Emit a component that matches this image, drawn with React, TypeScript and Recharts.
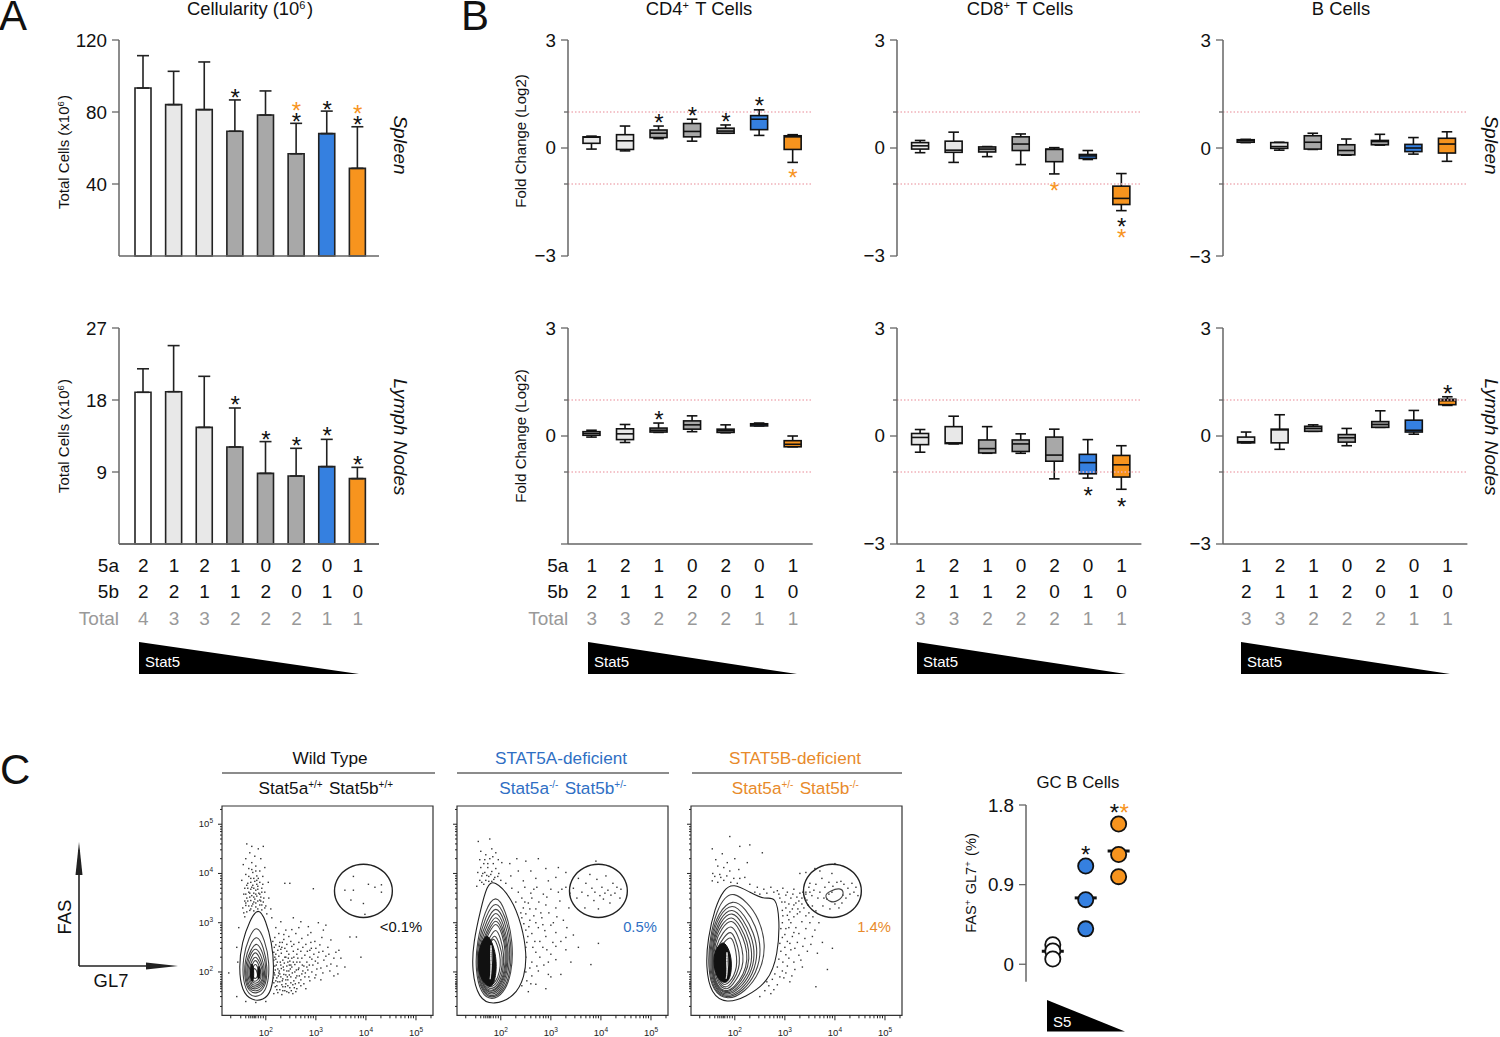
import React from "react";
import {
  ComposedChart,
  ScatterChart,
  Bar,
  Line,
  Scatter,
  Cell,
  ErrorBar,
  XAxis,
  YAxis,
  ReferenceLine,
  ReferenceArea,
} from "recharts";

const FONT = "'Liberation Sans', Arial, sans-serif";
const AXIS = "#666";
const INK = "#111";
const BLUE = "#3580e0";
const ORANGE = "#f7941e";
const LIGHT = "#e8e8e8";
const GREY = "#a8a8a8";

// panel A
const genotypes8 = ["2/2", "1/2", "2/1", "1/1", "0/2", "2/0", "0/1", "1/0"];
const a5a8 = [2, 1, 2, 1, 0, 2, 0, 1];
const a5b8 = [2, 2, 1, 1, 2, 0, 1, 0];
const total8 = [4, 3, 3, 2, 2, 2, 1, 1];
const barColours = ["#fff", LIGHT, LIGHT, GREY, GREY, GREY, BLUE, ORANGE];

const spleenMeans = [93.3, 84.1, 81.3, 69.3, 78.3, 56.8, 68, 48.7];
const spleenTops = [111.3, 102.6, 107.8, 86.7, 91.7, 73.7, 80.5, 71.8];
const spleenBlack = [null, null, null, 91.1, null, 77.8, 84.4, 76];
const spleenOrange = [null, null, null, null, null, 84, null, 82.4];

const lnMeans = [18.96, 19.04, 14.58, 12.13, 8.83, 8.5, 9.67, 8.17];
const lnTops = [21.9, 24.8, 20.96, 17, 12.8, 11.96, 13.08, 9.58];
const lnBlack = [null, null, null, 18.1, 13.8, 13, 14.2, 10.6];

// panel B: [min, q1, median, q3, max]
const genotypes7 = ["1/2", "2/1", "1/1", "0/2", "2/0", "0/1", "1/0"];
const a5a7 = [1, 2, 1, 0, 2, 0, 1];
const a5b7 = [2, 1, 1, 2, 0, 1, 0];
const total7 = [3, 3, 2, 2, 2, 1, 1];
const boxColours = [LIGHT, LIGHT, GREY, GREY, GREY, BLUE, ORANGE];

const cd4Spleen = [
  [-0.03, 0.13, 0.3, 0.31, 0.33],
  [-0.08, -0.04, 0.2, 0.37, 0.61],
  [0.26, 0.29, 0.41, 0.5, 0.61],
  [0.19, 0.31, 0.46, 0.68, 0.8],
  [0.41, 0.41, 0.47, 0.55, 0.64],
  [0.35, 0.51, 0.8, 0.9, 1.06],
  [-0.4, -0.04, 0.31, 0.34, 0.37],
];
const cd4SpleenBlack = [null, null, 0.87, 1.06, 0.89, 1.32, null];
const cd4SpleenOrange = [null, null, null, null, null, null, -0.68];

const cd8Spleen = [
  [-0.13, -0.03, 0.06, 0.15, 0.21],
  [-0.4, -0.12, -0.06, 0.19, 0.44],
  [-0.24, -0.11, -0.03, 0.03, 0.04],
  [-0.46, -0.07, 0.11, 0.31, 0.39],
  [-0.72, -0.38, -0.04, -0.03, 0.01],
  [-0.32, -0.29, -0.22, -0.18, -0.07],
  [-1.74, -1.57, -1.4, -1.06, -0.71],
];
const cd8SpleenBlack = [null, null, null, null, null, null, -2.03];
const cd8SpleenOrange = [null, null, null, null, -1.03, null, -2.33];

const bSpleen = [
  [0.15, 0.16, 0.2, 0.23, 0.24],
  [-0.06, -0.01, 0.04, 0.15, 0.16],
  [-0.04, -0.03, 0.16, 0.34, 0.41],
  [-0.2, -0.19, -0.07, 0.09, 0.25],
  [0.08, 0.09, 0.18, 0.21, 0.38],
  [-0.17, -0.1, 0, 0.1, 0.29],
  [-0.37, -0.14, 0.11, 0.27, 0.45],
];

const cd4Ln = [
  [-0.03, 0.02, 0.07, 0.12, 0.16],
  [-0.18, -0.1, 0.06, 0.2, 0.32],
  [0.1, 0.11, 0.16, 0.22, 0.36],
  [0.12, 0.19, 0.31, 0.42, 0.56],
  [0.09, 0.1, 0.15, 0.19, 0.31],
  [0.28, 0.28, 0.32, 0.34, 0.36],
  [-0.3, -0.3, -0.23, -0.13, 0],
];
const cd4LnBlack = [null, null, 0.6, null, null, null, null];

const cd8Ln = [
  [-0.45, -0.24, -0.04, 0.07, 0.18],
  [-0.22, -0.21, -0.19, 0.26, 0.55],
  [-0.48, -0.47, -0.35, -0.11, 0.26],
  [-0.48, -0.43, -0.22, -0.11, 0.06],
  [-1.19, -0.7, -0.53, -0.03, 0.19],
  [-1.17, -1.05, -0.74, -0.51, -0.1],
  [-1.48, -1.14, -0.8, -0.54, -0.27],
];
const cd8LnBlack = [null, null, null, null, null, -1.49, -1.8];

const bLn = [
  [-0.19, -0.19, -0.16, -0.03, 0.11],
  [-0.37, -0.19, 0.17, 0.19, 0.59],
  [0.13, 0.13, 0.21, 0.27, 0.31],
  [-0.27, -0.17, -0.05, 0.04, 0.21],
  [0.24, 0.24, 0.32, 0.4, 0.7],
  [0.05, 0.11, 0.16, 0.44, 0.71],
  [0.85, 0.87, 0.98, 1.02, 1.09],
];
const bLnBlack = [null, null, null, null, null, null, 1.33];

// GC B cells
const gcWhite = [0.22, 0.15, 0.06];
const gcBlue = [1.11, 0.73, 0.4];
const gcOrange = [1.585, 1.24, 0.99];
const gcMedians = [0.147, 0.75, 1.28];

// flow plots, values are log10 of fluorescence
const flowMinor = [1.3, 1.5, 1.6, 1.66, 1.7, 1.74, 1.77, 1.8, 1.85, 1.9, 1.95, 2.3, 2.48, 2.6, 2.7, 2.78, 2.85, 2.9, 2.95, 3.3, 3.48, 3.6, 3.7, 3.78, 3.85, 3.9, 3.95, 4.3, 4.48, 4.6, 4.7, 4.78, 4.85, 4.9, 4.95, 5.3];
const flowMajor = [2, 3, 4, 5];

const gateRing = [[4.555, 3.646], [4.474, 3.928], [4.252, 4.135], [3.95, 4.211], [3.648, 4.135], [3.426, 3.928], [3.345, 3.646], [3.426, 3.364], [3.648, 3.157], [3.95, 3.081], [4.252, 3.157], [4.474, 3.364]];

const wtContours = [
  [[1.85, 3.32], [2.0, 3.05], [2.12, 2.6], [2.17, 2.1], [2.12, 1.6], [1.95, 1.42], [1.72, 1.42], [1.52, 1.6], [1.46, 2.1], [1.52, 2.6], [1.68, 3.05]],
  [[1.82, 2.98], [1.98, 2.65], [2.08, 2.2], [2.04, 1.65], [1.85, 1.48], [1.66, 1.52], [1.54, 1.8], [1.54, 2.3], [1.66, 2.7]],
  [[1.82, 2.78], [1.96, 2.5], [2.04, 2.1], [2.0, 1.68], [1.82, 1.55], [1.66, 1.6], [1.57, 1.85], [1.58, 2.25], [1.68, 2.55]],
  [[1.82, 2.63], [1.95, 2.38], [2.02, 2.05], [1.97, 1.7], [1.82, 1.6], [1.67, 1.63], [1.59, 1.88], [1.6, 2.2], [1.7, 2.45]],
  [[1.8, 2.52], [1.93, 2.3], [1.99, 2.0], [1.95, 1.72], [1.8, 1.64], [1.68, 1.67], [1.61, 1.9], [1.63, 2.18], [1.7, 2.38]],
  [[1.8, 2.44], [1.91, 2.22], [1.97, 1.98], [1.93, 1.75], [1.8, 1.68], [1.7, 1.7], [1.63, 1.92], [1.65, 2.14], [1.72, 2.32]],
  [[1.8, 2.34], [1.9, 2.16], [1.95, 1.95], [1.91, 1.78], [1.8, 1.72], [1.71, 1.74], [1.66, 1.93], [1.67, 2.1], [1.73, 2.25]],
  [[1.8, 2.27], [1.88, 2.1], [1.92, 1.95], [1.88, 1.8], [1.79, 1.76], [1.72, 1.79], [1.69, 1.93], [1.7, 2.07], [1.74, 2.18]],
  [[1.79, 2.2], [1.86, 2.05], [1.88, 1.93], [1.84, 1.83], [1.78, 1.8], [1.73, 1.83], [1.71, 1.94], [1.73, 2.06]],
  [[1.78, 2.1], [1.84, 1.98], [1.83, 1.88], [1.77, 1.86], [1.74, 1.92], [1.74, 2.02]],
];
const wtCores = [
  [[1.71, 2.22], [1.76, 2.1], [1.76, 1.85], [1.72, 1.78], [1.68, 1.95]],
  [[1.86, 2.18], [1.9, 2.0], [1.86, 1.8], [1.82, 1.95]],
];

const aContours = [
  [[1.86, 3.88], [2.22, 3.5], [2.42, 2.95], [2.52, 2.37], [2.48, 1.9], [2.28, 1.5], [1.86, 1.32], [1.55, 1.45], [1.42, 2.03], [1.45, 2.6], [1.6, 3.28], [1.72, 3.75]],
  [[1.9, 3.6], [2.1, 3.25], [2.25, 2.6], [2.22, 1.95], [2.05, 1.55], [1.82, 1.42], [1.6, 1.55], [1.49, 2.05], [1.52, 2.6], [1.68, 3.25]],
  [[1.9, 3.48], [2.09, 3.15], [2.22, 2.58], [2.2, 1.98], [2.04, 1.58], [1.82, 1.45], [1.62, 1.58], [1.51, 2.05], [1.54, 2.6], [1.7, 3.15]],
  [[1.9, 3.38], [2.08, 3.05], [2.19, 2.55], [2.17, 2.0], [2.02, 1.6], [1.82, 1.48], [1.63, 1.6], [1.53, 2.05], [1.56, 2.6], [1.72, 3.05]],
  [[1.9, 3.29], [2.06, 2.98], [2.16, 2.52], [2.14, 2.0], [2.0, 1.62], [1.82, 1.52], [1.64, 1.62], [1.54, 2.05], [1.58, 2.58], [1.74, 2.98]],
  [[1.9, 3.2], [2.05, 2.9], [2.14, 2.5], [2.12, 2.0], [1.98, 1.65], [1.82, 1.55], [1.65, 1.65], [1.56, 2.05], [1.6, 2.55], [1.75, 2.9]],
  [[1.9, 3.12], [2.04, 2.84], [2.12, 2.46], [2.1, 2.0], [1.97, 1.68], [1.81, 1.58], [1.66, 1.66], [1.57, 2.05], [1.61, 2.52], [1.76, 2.85]],
  [[1.9, 3.05], [2.03, 2.78], [2.1, 2.42], [2.08, 2.0], [1.96, 1.7], [1.81, 1.6], [1.67, 1.68], [1.58, 2.05], [1.62, 2.5], [1.77, 2.8]],
  [[1.9, 2.92], [2.0, 2.68], [2.07, 2.35], [2.05, 2.0], [1.94, 1.72], [1.8, 1.64], [1.68, 1.72], [1.6, 2.05], [1.64, 2.45], [1.78, 2.7]],
  [[1.88, 2.8], [1.98, 2.55], [2.04, 2.3], [2.02, 2.0], [1.92, 1.76], [1.8, 1.68], [1.69, 1.75], [1.62, 2.05], [1.66, 2.4], [1.78, 2.6]],
  [[1.86, 2.72], [1.95, 2.5], [2.0, 2.25], [1.98, 2.0], [1.9, 1.8], [1.8, 1.72], [1.7, 1.78], [1.62, 2.05], [1.66, 2.38], [1.78, 2.58]],
];
const aCores = [[[1.75, 2.78], [1.9, 2.42], [1.92, 2.0], [1.84, 1.68], [1.7, 1.72], [1.55, 1.95], [1.54, 2.4], [1.65, 2.68]]];
const aStreak = [[1.8, 2.66], [1.83, 2.3], [1.8, 2.0], [1.78, 1.78], [1.81, 2.0], [1.79, 2.3]];

const bContours = [
  [[1.97, 3.8], [2.3, 3.62], [2.6, 3.46], [2.82, 3.55], [2.9, 3.05], [2.86, 2.35], [2.68, 1.8], [2.2, 1.48], [1.84, 1.36], [1.52, 1.55], [1.42, 2.1], [1.46, 2.68], [1.6, 3.3], [1.78, 3.68]],
  [[1.97, 3.62], [2.25, 3.42], [2.48, 3.1], [2.63, 2.55], [2.52, 2.0], [2.2, 1.58], [1.85, 1.42], [1.56, 1.6], [1.46, 2.1], [1.5, 2.7], [1.64, 3.25], [1.8, 3.52]],
  [[1.96, 3.5], [2.22, 3.28], [2.42, 2.95], [2.54, 2.45], [2.44, 1.98], [2.16, 1.6], [1.85, 1.45], [1.58, 1.6], [1.48, 2.1], [1.52, 2.7], [1.66, 3.2]],
  [[1.95, 3.42], [2.2, 3.15], [2.38, 2.8], [2.47, 2.4], [2.37, 1.95], [2.12, 1.62], [1.85, 1.48], [1.6, 1.62], [1.5, 2.1], [1.54, 2.7], [1.68, 3.15]],
  [[1.95, 3.33], [2.17, 3.07], [2.34, 2.72], [2.41, 2.35], [2.32, 1.95], [2.08, 1.64], [1.85, 1.51], [1.61, 1.64], [1.52, 2.1], [1.56, 2.68], [1.7, 3.1]],
  [[1.95, 3.25], [2.15, 3.0], [2.3, 2.65], [2.36, 2.3], [2.27, 1.95], [2.05, 1.66], [1.85, 1.54], [1.62, 1.66], [1.53, 2.1], [1.57, 2.65], [1.72, 3.05]],
  [[1.94, 3.17], [2.12, 2.92], [2.26, 2.6], [2.3, 2.27], [2.22, 1.95], [2.02, 1.68], [1.84, 1.56], [1.63, 1.68], [1.54, 2.1], [1.58, 2.62], [1.73, 2.97]],
  [[1.94, 3.1], [2.1, 2.85], [2.22, 2.55], [2.26, 2.25], [2.18, 1.95], [2.0, 1.7], [1.84, 1.58], [1.64, 1.7], [1.55, 2.1], [1.6, 2.6], [1.74, 2.9]],
  [[1.93, 2.98], [2.06, 2.75], [2.15, 2.48], [2.18, 2.2], [2.1, 1.95], [1.96, 1.74], [1.83, 1.62], [1.66, 1.74], [1.57, 2.1], [1.62, 2.55], [1.76, 2.8]],
  [[1.92, 2.86], [2.02, 2.65], [2.09, 2.4], [2.1, 2.15], [2.04, 1.95], [1.93, 1.77], [1.82, 1.66], [1.68, 1.77], [1.59, 2.1], [1.64, 2.5], [1.78, 2.7]],
  [[1.92, 2.74], [2.0, 2.55], [2.04, 2.3], [2.04, 2.1], [1.98, 1.92], [1.9, 1.8], [1.81, 1.72], [1.69, 1.8], [1.61, 2.1], [1.66, 2.45], [1.8, 2.62]],
  [[3.78, 3.56], [3.9, 3.64], [4.1, 3.72], [4.2, 3.6], [4.08, 3.44], [3.9, 3.4]],
];
const bCores = [[[1.8, 2.62], [1.93, 2.36], [1.94, 2.0], [1.86, 1.76], [1.7, 1.8], [1.58, 2.05], [1.58, 2.4], [1.7, 2.57]]];
const bStreak = [[1.84, 2.5], [1.87, 2.2], [1.84, 1.95], [1.82, 1.82], [1.85, 1.95], [1.83, 2.2]];

const wtDots = [
  [1.26, 1.98], [1.62, 4.6], [1.72, 4.55], [1.85, 4.5], [1.95, 4.55], [1.68, 4.42], [1.78, 4.35], [1.6, 4.3], [1.9, 4.3], [1.72, 4.22], [1.55, 4.18], [1.8, 4.15], [1.98, 4.12],
  [1.66, 4.1], [1.88, 4.05], [1.74, 4.02], [1.6, 3.98], [1.82, 3.95], [1.94, 3.94], [1.7, 3.9], [1.52, 3.86], [1.78, 3.84], [1.88, 3.82], [2.05, 3.82], [1.64, 3.8], [1.74, 3.76],
  [1.84, 3.74], [1.58, 3.7], [1.92, 3.7], [1.7, 3.68], [1.8, 3.66], [1.66, 3.62], [1.76, 3.6], [1.86, 3.6], [1.98, 3.62], [1.56, 3.58], [1.72, 3.55], [1.82, 3.54], [1.9, 3.52],
  [1.62, 3.5], [1.78, 3.48], [2.06, 3.5], [1.7, 3.45], [1.84, 3.44], [1.95, 3.42], [1.6, 3.4], [1.74, 3.38], [1.88, 3.36], [1.66, 3.34], [1.8, 3.32], [2.0, 3.34], [1.54, 3.3],
  [1.7, 3.28], [1.92, 3.26], [2.1, 3.28], [1.62, 3.22], [2.02, 3.18], [1.58, 3.12], [2.12, 3.1], [1.76, 3.7], [1.82, 3.78], [1.68, 3.52], [1.9, 3.44], [1.98, 3.3], [1.76, 3.42],
  [2.2, 2.9], [2.3, 3.02], [2.38, 3.8], [2.48, 3.8], [2.95, 3.69], [2.18, 2.7], [2.26, 2.78], [2.4, 2.85], [2.55, 3.1], [2.7, 3.02], [2.85, 2.92], [3.05, 3.0], [3.2, 2.95],
  [2.2, 2.55], [2.28, 2.6], [2.36, 2.66], [2.46, 2.72], [2.6, 2.78], [2.72, 2.68], [2.84, 2.75], [2.98, 2.62], [3.12, 2.7], [3.3, 2.65], [3.68, 2.71], [3.81, 2.71], [3.9, 2.3],
  [2.16, 2.4], [2.24, 2.44], [2.32, 2.5], [2.42, 2.42], [2.52, 2.52], [2.64, 2.46], [2.74, 2.5], [2.88, 2.44], [3.0, 2.48], [3.14, 2.42], [3.26, 2.36], [3.4, 2.4], [3.5, 2.28],
  [2.2, 2.26], [2.26, 2.32], [2.34, 2.24], [2.4, 2.3], [2.48, 2.22], [2.56, 2.3], [2.62, 2.2], [2.72, 2.28], [2.82, 2.2], [2.92, 2.26], [3.04, 2.18], [3.16, 2.24], [3.3, 2.16], [3.42, 2.12], [3.58, 2.1],
  [2.18, 2.12], [2.24, 2.06], [2.3, 2.14], [2.36, 2.04], [2.42, 2.12], [2.46, 2.02], [2.52, 2.1], [2.58, 2.0], [2.66, 2.08], [2.74, 2.02], [2.82, 2.1], [2.92, 2.0], [3.02, 2.06], [3.14, 1.98], [3.28, 2.02], [3.44, 1.96],
  [2.18, 1.94], [2.22, 1.88], [2.28, 1.96], [2.34, 1.86], [2.4, 1.94], [2.44, 1.84], [2.5, 1.9], [2.56, 1.82], [2.62, 1.92], [2.7, 1.84], [2.78, 1.9], [2.88, 1.82], [2.98, 1.88], [3.1, 1.84],
  [2.16, 1.78], [2.22, 1.72], [2.28, 1.8], [2.34, 1.7], [2.4, 1.76], [2.48, 1.68], [2.54, 1.74], [2.62, 1.66], [2.7, 1.72], [2.8, 1.66], [2.16, 1.56], [2.24, 1.58], [2.32, 1.54], [2.42, 1.6], [2.54, 1.56], [1.42, 1.5], [1.6, 1.4], [1.8, 1.38], [2.0, 1.4],
  [1.44, 2.2], [1.42, 2.5], [1.46, 2.9], [3.75, 3.94], [3.95, 3.39], [3.58, 3.66], [3.75, 3.66], [4.05, 3.78], [4.18, 3.72], [4.31, 3.77], [4.31, 3.62], [3.98, 3.17], [3.7, 3.46],
  [1.6, 3.35], [1.64, 3.44], [1.68, 3.25], [1.72, 3.34], [1.76, 3.24], [1.8, 3.4], [1.84, 3.28], [1.88, 3.46], [1.92, 3.36], [1.96, 3.5], [1.6, 3.58], [1.64, 3.7], [1.68, 3.6], [1.72, 3.72], [1.76, 3.52], [1.8, 3.58],
  [1.84, 3.68], [1.88, 3.58], [1.92, 3.62], [1.7, 3.82], [1.76, 3.9], [1.82, 3.86], [1.66, 3.94], [1.72, 4.08], [1.8, 4.05], [1.85, 3.9], [1.62, 3.76], [1.94, 3.78], [1.58, 3.44], [1.56, 3.2],
  [2.14, 2.62], [2.17, 2.5], [2.2, 2.36], [2.23, 2.2], [2.16, 2.24], [2.19, 2.04], [2.15, 2.0], [2.2, 1.82], [2.15, 1.88], [2.25, 1.92], [2.22, 1.64], [2.19, 1.7], [2.27, 2.02], [2.29, 2.2], [2.31, 2.38], [2.27, 2.52],
  [2.33, 2.6], [2.3, 1.9], [2.32, 1.74], [2.28, 1.64], [2.35, 2.1], [2.38, 2.3], [2.36, 1.95], [2.38, 1.62], [2.4, 1.84], [2.42, 2.02], [2.44, 2.2], [2.46, 2.36], [2.44, 1.72], [2.47, 1.94], [2.5, 2.14], [2.52, 2.28],
  [2.5, 1.78], [2.53, 1.98], [2.55, 2.42], [2.58, 2.15], [2.57, 1.68], [2.6, 1.88], [2.62, 2.36], [2.65, 2.05], [2.66, 1.78], [2.68, 2.2], [2.7, 2.42], [2.72, 1.96], [2.76, 2.12], [2.78, 2.34], [2.76, 1.76], [2.8, 2.56],
  [2.84, 2.04], [2.86, 1.9], [2.88, 2.3], [2.9, 2.6], [2.94, 2.14], [2.96, 2.36], [3.0, 1.94], [3.04, 2.3], [3.08, 2.55], [3.1, 2.08], [3.2, 2.32], [3.24, 2.5], [3.36, 2.28], [3.46, 2.44], [3.36, 1.92], [3.22, 2.12],
  [2.5, 2.62], [2.66, 2.6], [2.42, 2.56], [2.36, 2.76], [2.52, 2.86], [2.66, 2.9], [2.9, 2.8], [3.15, 2.85],
  [2.18, 2.3], [2.21, 2.14], [2.17, 1.98], [2.24, 1.8], [2.26, 1.98], [2.31, 2.07], [2.33, 1.82], [2.37, 2.18], [2.39, 1.7], [2.43, 1.9], [2.45, 2.28], [2.49, 2.06], [2.51, 1.62], [2.55, 2.2], [2.59, 1.76], [2.61, 2.04],
  [2.64, 2.28], [2.67, 1.92], [2.73, 2.14], [2.79, 1.98], [2.83, 2.42], [2.87, 2.14], [2.91, 2.48], [2.99, 2.22], [3.06, 2.4], [2.3, 2.46], [2.38, 2.48], [2.47, 2.14], [2.56, 2.56], [2.34, 1.62], [2.46, 1.58], [2.6, 1.6],
];

const aDots = [
  [1.55, 4.65], [1.78, 4.7], [1.6, 4.45], [1.82, 4.5], [1.9, 4.42], [1.7, 4.38], [1.58, 4.28], [1.78, 4.3], [1.95, 4.28], [1.66, 4.2], [1.85, 4.2], [2.02, 4.22], [1.6, 4.12], [1.74, 4.12],
  [1.9, 4.1], [1.54, 4.02], [1.68, 4.02], [1.82, 4.04], [1.96, 4.0], [1.62, 3.95], [1.76, 3.94], [1.88, 3.92], [1.58, 3.86], [1.7, 3.86], [1.82, 3.84], [2.0, 3.86], [1.66, 3.78], [1.52, 3.74], [2.1, 3.8],
  [2.18, 4.2], [2.32, 4.3], [2.5, 4.25], [2.75, 4.3], [2.35, 4.05], [2.6, 4.05], [2.9, 4.1], [3.15, 4.12], [2.2, 3.95], [2.45, 3.85], [2.7, 3.9], [2.95, 3.85], [3.1, 3.92], [3.3, 4.02],
  [2.22, 3.7], [2.35, 3.62], [2.48, 3.72], [2.6, 3.6], [2.72, 3.72], [2.85, 3.58], [3.0, 3.68], [3.15, 3.62], [3.3, 3.72], [2.3, 3.42], [2.45, 3.3], [2.55, 3.4], [2.7, 3.28], [2.9, 3.36], [3.1, 3.3],
  [2.42, 3.1], [2.5, 3.18], [2.58, 3.05], [2.7, 3.0], [2.82, 3.1], [3.05, 3.0], [3.25, 3.05], [2.5, 2.85], [2.62, 2.78], [2.75, 2.9], [2.9, 2.72], [3.1, 2.8], [3.3, 2.7], [3.45, 2.75],
  [2.52, 2.6], [2.64, 2.5], [2.78, 2.62], [2.92, 2.45], [3.1, 2.52], [3.3, 2.45], [3.55, 2.5], [3.95, 2.58], [2.5, 2.3], [2.62, 2.2], [2.78, 2.3], [2.95, 2.2], [3.1, 2.25], [3.4, 2.2],
  [2.5, 2.0], [2.62, 1.92], [2.75, 2.02], [2.95, 1.95], [3.2, 1.95], [3.8, 2.15], [2.42, 1.72], [2.55, 1.6], [2.7, 1.75], [2.9, 1.66], [3.0, 1.9],
  [3.45, 3.7], [3.52, 3.5], [3.55, 3.9], [3.62, 3.62], [3.68, 3.3], [3.7, 3.8], [3.74, 3.55], [3.78, 3.98], [3.82, 3.7], [3.86, 3.45], [3.88, 3.62], [3.92, 3.88], [3.95, 3.28], [3.98, 3.55],
  [4.02, 3.72], [4.05, 3.48], [4.08, 3.6], [4.1, 3.95], [4.14, 3.66], [4.18, 3.4], [4.2, 3.56], [4.24, 3.8], [4.28, 3.6], [4.32, 3.72], [4.38, 3.5], [4.4, 3.68], [3.9, 4.25],
  [1.64, 4.0], [1.72, 3.96], [1.8, 3.98], [1.86, 3.88], [1.74, 4.2], [1.62, 3.82], [1.76, 3.84], [1.94, 3.94], [1.68, 4.28], [1.84, 4.34], [2.42, 3.5], [2.48, 3.42], [2.4, 3.2], [2.46, 2.98], [2.44, 2.7],
  [2.5, 2.5], [2.46, 2.42], [2.54, 2.72], [2.56, 2.92], [2.58, 3.28], [2.62, 3.5], [2.66, 3.14], [2.68, 2.62], [2.7, 2.4], [2.72, 2.12], [2.58, 2.08], [2.52, 1.82], [2.6, 1.76], [2.66, 3.68], [2.76, 3.42],
  [2.8, 3.2], [2.84, 2.96], [2.88, 2.84], [2.84, 2.5], [2.86, 2.14], [2.92, 3.52], [2.96, 3.2], [3.0, 2.95], [3.04, 2.6], [3.0, 2.36], [3.12, 3.12], [3.18, 3.44], [3.22, 3.68], [3.2, 2.62], [3.38, 3.6], [3.36, 3.3], [3.32, 2.9],
];

const bDots = [
  [1.9, 4.75], [1.55, 4.5], [1.75, 4.4], [2.1, 4.55], [2.3, 4.58], [2.55, 4.42], [1.62, 4.28], [1.85, 4.22], [2.0, 4.3], [2.25, 4.22], [1.66, 4.15], [1.78, 4.12], [1.9, 4.05], [2.08, 4.08],
  [1.56, 4.0], [1.7, 3.98], [1.84, 3.95], [1.98, 3.9], [2.2, 3.92], [1.55, 3.85], [1.66, 3.82], [1.78, 3.86], [1.92, 3.82], [2.05, 3.8], [2.3, 3.78], [2.45, 3.72], [2.58, 3.68], [2.72, 3.72],
  [2.85, 3.65], [2.96, 3.7], [3.05, 3.62], [3.18, 3.68], [3.3, 3.6], [2.9, 3.5], [3.0, 3.42], [3.12, 3.5], [3.22, 3.4], [3.34, 3.5], [3.42, 3.58], [3.5, 3.8], [3.3, 4.0], [3.42, 4.02], [3.6, 4.1],
  [2.95, 3.25], [3.05, 3.15], [3.15, 3.28], [3.25, 3.18], [3.38, 3.3], [3.48, 3.2], [3.55, 3.34], [2.95, 3.0], [3.02, 2.88], [3.12, 3.0], [3.22, 2.9], [3.34, 3.02], [3.5, 3.0], [3.68, 3.0],
  [2.95, 2.7], [3.05, 2.62], [3.15, 2.72], [3.25, 2.6], [3.4, 2.68], [3.55, 2.72], [3.75, 2.6], [2.92, 2.42], [3.02, 2.35], [3.12, 2.45], [3.28, 2.34], [3.45, 2.42], [3.65, 2.38], [3.95, 2.48],
  [2.85, 2.1], [2.95, 2.02], [3.05, 2.12], [3.2, 2.05], [3.35, 2.1], [2.75, 1.85], [2.85, 1.74], [2.98, 1.88], [3.1, 1.8], [2.6, 1.62], [2.72, 1.56], [2.5, 1.5], [3.85, 2.05], [3.62, 1.7],
  [3.42, 3.62], [3.48, 3.72], [3.54, 3.55], [3.58, 3.66], [3.62, 3.78], [3.66, 3.5], [3.7, 3.62], [3.74, 3.9], [3.76, 3.34], [3.8, 3.72], [3.84, 3.48], [3.88, 3.82], [3.9, 3.28], [3.94, 4.0],
  [3.96, 3.74], [4.0, 3.38], [4.04, 3.82], [4.08, 3.3], [4.12, 3.84], [4.14, 3.4], [4.18, 3.78], [4.22, 3.5], [4.26, 3.7], [4.3, 3.58], [4.34, 3.8], [4.38, 3.62], [4.42, 3.72], [4.46, 3.55], [4.0, 4.2], [3.7, 4.05],
  [1.72, 3.92], [1.6, 3.94], [2.1, 3.9], [2.4, 3.62], [2.5, 3.58], [2.64, 3.6], [2.78, 3.62], [2.88, 3.58], [2.94, 3.42], [3.02, 3.56], [3.08, 3.38], [3.16, 3.58], [3.24, 3.52], [3.28, 3.44], [3.36, 3.62],
  [3.44, 3.46], [3.5, 3.62], [3.46, 3.36], [3.4, 3.5], [3.34, 3.38], [3.26, 3.28], [3.18, 3.36], [3.1, 3.22], [3.02, 3.3], [2.96, 3.14], [3.08, 3.06], [3.18, 3.12], [3.3, 3.22], [3.42, 3.14], [3.56, 3.12],
  [3.62, 3.24], [2.92, 2.88], [3.0, 2.76], [3.08, 2.9], [3.18, 2.8], [3.28, 2.78], [3.42, 2.88], [3.6, 2.85], [2.9, 2.58], [3.0, 2.5], [3.1, 2.58], [3.2, 2.48], [3.36, 2.52], [3.52, 2.56], [2.88, 2.26],
  [2.96, 2.2], [3.08, 2.28], [3.18, 2.2], [3.32, 2.24], [2.8, 1.96], [2.9, 1.9], [3.02, 1.98], [3.14, 1.92], [2.68, 1.72], [2.78, 1.64], [2.64, 1.8], [3.88, 3.58], [3.94, 3.62], [3.78, 3.5], [4.16, 3.56],
];

const toXY = (pairs: number[][]) => pairs.map(([x, y]) => ({ x, y }));
const Nothing = () => <g />;

function starDot(colour: string) {
  return (p: any) =>
    p.value == null || p.cy == null ? (
      <g key={p.key} />
    ) : (
      <text key={p.key} x={p.cx} y={p.cy + 14} textAnchor="middle" fontSize={24} fontFamily={FONT} fill={colour}>
        *
      </text>
    );
}

function YTick({ x, y, payload, hidden = [] }: any) {
  const v = payload.value;
  const minor = Math.abs(v) === 1;
  const label = v < 0 ? "\u2212" + Math.abs(v) : String(v);
  return (
    <g>
      <line x1={x - (minor ? 4 : 7)} x2={x} y1={y} y2={y} stroke={AXIS} strokeWidth={1.3} />
      {!minor && !hidden.includes(v) && (
        <text x={x - 12} y={y + 6.5} textAnchor="end" fontSize={18.8} fontFamily={FONT} fill={INK}>
          {label}
        </text>
      )}
    </g>
  );
}

function rowTick(a: number[], b: number[], total: number[]) {
  return ({ x, y, index }: any) => (
    <g fontFamily={FONT} fontSize={19} textAnchor="middle">
      <text x={x} y={y + 28} fill={INK}>{a[index]}</text>
      <text x={x} y={y + 54} fill={INK}>{b[index]}</text>
      <text x={x} y={y + 81} fill="#999">{total[index]}</text>
    </g>
  );
}

function BarPanel({ top, plotH, means, tops, black, orange, domain, ticks, rows }: any) {
  const table = genotypes8.map((name, i) => ({
    name,
    mean: means[i],
    err: [0, tops[i] - means[i]],
    blackStar: black[i],
    orangeStar: orange ? orange[i] : null,
  }));
  return (
    <div style={{ position: "absolute", left: 59, top: top - 10 }}>
      <ComposedChart width={325} height={plotH + 10 + (rows ? 95 : 10)} data={table} margin={{ top: 10, right: 5, bottom: rows ? 5 : 10, left: 0 }}>
        <XAxis
          dataKey="name"
          padding={{ left: 9, right: 6 }}
          height={rows ? 90 : 0}
          stroke={AXIS}
          strokeWidth={1.5}
          tickLine={false}
          tickSize={0}
          tickMargin={0}
          interval={0}
          tick={rows ? rowTick(a5a8, a5b8, total8) : false}
        />
        <YAxis
          width={60}
          domain={domain}
          ticks={ticks}
          interval={0}
          stroke={AXIS}
          strokeWidth={1.5}
          tickLine={false}
          tickSize={0}
          tickMargin={0}
          tick={(p: any) => <YTick {...p} />}
        />
        <ReferenceLine y={0} stroke={AXIS} strokeWidth={1.5} />
        <Bar dataKey="mean" barSize={16} stroke="#222" strokeWidth={1.6} isAnimationActive={false}>
          {table.map((d, i) => (
            <Cell key={d.name} fill={barColours[i]} />
          ))}
          <ErrorBar dataKey="err" direction="y" width={6} stroke="#222" strokeWidth={1.6} isAnimationActive={false} />
        </Bar>
        <Line dataKey="blackStar" stroke="none" dot={starDot(INK)} activeDot={false} isAnimationActive={false} />
        <Line dataKey="orangeStar" stroke="none" dot={starDot(ORANGE)} activeDot={false} isAnimationActive={false} />
      </ComposedChart>
    </div>
  );
}

// bar spans min to max, so the library scale gives the pixels of the inner values
function BoxShape(props: any) {
  const { x, y, width, height, payload } = props;
  const [lo, q1, med, q3, hi] = payload.stats;
  const py = (v: number) => y + (height * (hi - v)) / (hi - lo);
  const cx = x + width / 2;
  const cap = 5.3;
  const sw = 1.6;
  return (
    <g stroke={INK} strokeWidth={sw}>
      <line x1={cx} x2={cx} y1={py(hi)} y2={py(lo)} />
      <line x1={cx - cap} x2={cx + cap} y1={py(hi)} y2={py(hi)} />
      <line x1={cx - cap} x2={cx + cap} y1={py(lo)} y2={py(lo)} />
      <rect x={x} y={py(q3)} width={width} height={py(q1) - py(q3)} fill={payload.colour} />
      <line x1={x} x2={x + width} y1={py(med)} y2={py(med)} />
    </g>
  );
}

function BoxPanel({ axisX, endX, top, stats, black, orange, rows, hidden, padLeft }: any) {
  const table = genotypes7.map((name, i) => ({
    name,
    stats: stats[i],
    colour: boxColours[i],
    blackStar: black ? black[i] : null,
    orangeStar: orange ? orange[i] : null,
  }));
  const plotW = endX - axisX;
  return (
    <div style={{ position: "absolute", left: axisX - 60, top: top - 10 }}>
      <ComposedChart width={60 + plotW + 5} height={216 + 10 + (rows ? 95 : 12)} data={table} margin={{ top: 10, right: 5, bottom: rows ? 5 : 12, left: 0 }}>
        <XAxis
          dataKey="name"
          padding={{ left: padLeft, right: 3 }}
          height={rows ? 90 : 0}
          stroke={AXIS}
          strokeWidth={1.5}
          tickLine={false}
          tickSize={0}
          tickMargin={0}
          interval={0}
          tick={rows ? rowTick(a5a7, a5b7, total7) : false}
        />
        <YAxis
          width={60}
          domain={[-3, 3]}
          ticks={[-3, -1, 0, 1, 3]}
          interval={0}
          stroke={AXIS}
          strokeWidth={1.5}
          tickLine={false}
          tickSize={0}
          tickMargin={0}
          tick={(p: any) => <YTick {...p} hidden={hidden} />}
        />
        <ReferenceLine y={1} stroke="#f0b0b8" strokeWidth={1.3} strokeDasharray="1.5 2" />
        <ReferenceLine y={-1} stroke="#f0b0b8" strokeWidth={1.3} strokeDasharray="1.5 2" />
        <Bar dataKey={(d: any) => [d.stats[0], d.stats[4]]} barSize={17} shape={BoxShape} isAnimationActive={false} />
        <Line dataKey="blackStar" stroke="none" dot={starDot(INK)} activeDot={false} isAnimationActive={false} />
        <Line dataKey="orangeStar" stroke="none" dot={starDot(ORANGE)} activeDot={false} isAnimationActive={false} />
      </ComposedChart>
    </div>
  );
}

function FlowXTick({ x, y, payload }: any) {
  const major = flowMajor.includes(payload.value);
  return (
    <g>
      <line x1={x} x2={x} y1={y} y2={y + (major ? 5 : 3)} stroke="#222" strokeWidth={1} />
      {major && (
        <text x={x} y={y + 21} textAnchor="middle" fontSize={9.5} fontFamily={FONT} fill="#222">
          10<tspan dy={-4} fontSize={6.5}>{payload.value}</tspan>
        </text>
      )}
    </g>
  );
}

function flowYTick(labels: boolean) {
  return ({ x, y, payload }: any) => {
    const major = flowMajor.includes(payload.value);
    return (
      <g>
        <line x1={x - (major ? 4 : 2)} x2={x} y1={y} y2={y} stroke="#222" strokeWidth={1} />
        {major && labels && (
          <text x={x - 9} y={y + 3} textAnchor="end" fontSize={9.5} fontFamily={FONT} fill="#222">
            10<tspan dy={-4} fontSize={6.5}>{payload.value}</tspan>
          </text>
        )}
      </g>
    );
  };
}

const FlowDot = (p: any) => <rect x={p.cx - 0.7} y={p.cy - 0.7} width={1.4} height={1.4} fill="#333" />;

function FlowPlot({ frameX, dots, contours, cores = [], streak, labels }: any) {
  const xDomain = [1.125, 5.34];
  const yDomain = [1.12, 5.37];
  const flowTicks = [...flowMinor, ...flowMajor].sort((a, b) => a - b);
  const ringProps = { shape: Nothing, lineType: "joint" as const, lineJointType: "basisClosed" as const, fill: "none", isAnimationActive: false };
  return (
    <div style={{ position: "absolute", left: frameX - 30, top: 800.7 }}>
      <ScatterChart width={246} height={236.3} margin={{ top: 5, right: 5, bottom: 0, left: 0 }}>
        <XAxis
          type="number"
          dataKey="x"
          domain={xDomain}
          ticks={flowTicks}
          interval={0}
          height={22}
          axisLine={false}
          tickLine={false}
          tickSize={0}
          tickMargin={0}
          allowDataOverflow
          tick={(p: any) => <FlowXTick {...p} />}
        />
        <YAxis
          type="number"
          dataKey="y"
          domain={yDomain}
          ticks={flowTicks.filter((t) => t >= 1.3)}
          interval={0}
          width={30}
          axisLine={false}
          tickLine={false}
          tickSize={0}
          tickMargin={0}
          allowDataOverflow
          tick={flowYTick(labels)}
        />
        <ReferenceArea x1={xDomain[0]} x2={xDomain[1]} y1={yDomain[0]} y2={yDomain[1]} fill="none" stroke="#333" strokeWidth={1.2} fillOpacity={0} />
        <Scatter data={toXY(dots)} shape={FlowDot} isAnimationActive={false} />
        {contours.map((ring: number[][], i: number) => (
          <Scatter
            key={i}
            {...ringProps}
            data={toXY(ring)}
            line={{ stroke: i === 0 ? "#222" : "#444", strokeWidth: 1.1, fill: i === 0 ? "#fff" : "none", fillOpacity: i === 0 ? 1 : 0 }}
          />
        ))}
        {cores.map((ring: number[][], i: number) => (
          <Scatter key={"core" + i} {...ringProps} data={toXY(ring)} line={{ stroke: "#111", strokeWidth: 1, fill: "#111", fillOpacity: 1 }} />
        ))}
        {streak && <Scatter {...ringProps} data={toXY(streak)} line={{ stroke: "#ddd", strokeWidth: 1, fill: "none" }} />}
        <Scatter {...ringProps} data={toXY(gateRing)} line={{ stroke: "#222", strokeWidth: 1.4, fill: "none" }} />
      </ScatterChart>
    </div>
  );
}

const GcDot = (colour: string) => (p: any) => <circle cx={p.cx} cy={p.cy} r={7.6} fill={colour} stroke={INK} strokeWidth={1.8} />;
const GcDash = (p: any) => <rect x={p.cx - 11} y={p.cy - 1.5} width={22} height={3} fill={INK} />;
const GcStar = (colour: string) => (p: any) => (
  <text x={p.cx} y={p.cy + 14} textAnchor="middle" fontSize={24} fontFamily={FONT} fill={colour}>*</text>
);

function GcPanel() {
  const at = (x: number, vals: number[]) => vals.map((y) => ({ x, y }));
  return (
    <div style={{ position: "absolute", left: 966, top: 795 }}>
      <ScatterChart width={180} height={191.7} margin={{ top: 10, right: 4, bottom: 5, left: 0 }}>
        <XAxis type="number" dataKey="x" domain={[0.186, 3.71]} height={0} tick={false} tickLine={false} stroke={AXIS} strokeWidth={1.5} />
        <YAxis
          type="number"
          dataKey="y"
          domain={[-0.197, 1.8]}
          ticks={[0, 0.9, 1.8]}
          interval={0}
          width={60}
          stroke={AXIS}
          strokeWidth={1.5}
          tickLine={false}
          tickSize={0}
          tickMargin={0}
          tick={(p: any) => <YTick {...p} />}
        />
        <Scatter data={gcMedians.map((y, i) => ({ x: i + 1, y }))} shape={GcDash} isAnimationActive={false} />
        <Scatter data={at(1, gcWhite)} shape={GcDot("#fff")} isAnimationActive={false} />
        <Scatter data={at(2, gcBlue)} shape={GcDot(BLUE)} isAnimationActive={false} />
        <Scatter data={at(3, gcOrange)} shape={GcDot(ORANGE)} isAnimationActive={false} />
        <Scatter data={[{ x: 2, y: 1.3 }, { x: 2.87, y: 1.78 }]} shape={GcStar(INK)} isAnimationActive={false} />
        <Scatter data={[{ x: 3.17, y: 1.78 }]} shape={GcStar(ORANGE)} isAnimationActive={false} />
      </ScatterChart>
    </div>
  );
}

function Rotated({ x, y, angle, children, size = 14.5, style }: any) {
  return (
    <text transform={`translate(${x} ${y}) rotate(${angle})`} textAnchor="middle" fontSize={size} fontStyle={style} fill={INK}>
      {children}
    </text>
  );
}

const Sup = ({ children, size = 11, rise = 6 }: any) => (
  <>
    <tspan dy={-rise} fontSize={size}>{children}</tspan>
    <tspan dy={rise}>{"\u200a"}</tspan>
  </>
);

function Overlay() {
  const rowX = [119, 568.3];
  const wedges = [139, 588, 917, 1241];
  return (
    <svg width={1500} height={1037} style={{ position: "absolute", left: 0, top: 0, pointerEvents: "none" }} fontFamily={FONT}>
      <text x={-1} y={30} fontSize={42} fill={INK}>A</text>
      <text x={461} y={30} fontSize={42} fill={INK}>B</text>
      <text x={0} y={784} fontSize={42} fill={INK}>C</text>

      <g fontSize={18.4} fill={INK} textAnchor="middle">
        <text x={250} y={15}>Cellularity (10<Sup>6</Sup>)</text>
        <text x={699} y={15}>CD4<Sup>+</Sup> T Cells</text>
        <text x={1020} y={15}>CD8<Sup>+</Sup> T Cells</text>
        <text x={1341} y={15}>B Cells</text>
      </g>

      <Rotated x={69} y={152} angle={-90} size={15}>Total Cells (x10<Sup size={9.5} rise={5}>6</Sup>)</Rotated>
      <Rotated x={69} y={436} angle={-90} size={15}>Total Cells (x10<Sup size={9.5} rise={5}>6</Sup>)</Rotated>
      <Rotated x={526} y={141} angle={-90} size={15}>Fold Change (Log2)</Rotated>
      <Rotated x={526} y={436} angle={-90} size={15}>Fold Change (Log2)</Rotated>

      <Rotated x={394} y={145} angle={90} size={19} style="italic">Spleen</Rotated>
      <Rotated x={394} y={437} angle={90} size={19} style="italic">Lymph Nodes</Rotated>
      <Rotated x={1485} y={145} angle={90} size={19} style="italic">Spleen</Rotated>
      <Rotated x={1485} y={437} angle={90} size={19} style="italic">Lymph Nodes</Rotated>

      <g fontSize={19} textAnchor="end">
        {rowX.map((x) => (
          <g key={x}>
            <text x={x} y={572} fill={INK}>5a</text>
            <text x={x} y={598} fill={INK}>5b</text>
            <text x={x} y={625} fill="#999">Total</text>
          </g>
        ))}
      </g>

      {wedges.map((x) => (
        <g key={x}>
          <polygon points={`${x},642 ${x},674 ${x + 220 - (x === 139 ? 0 : 11)},674`} fill="#000" />
          <text x={x + 6} y={667} fontSize={15} fill="#fff">Stat5</text>
        </g>
      ))}

      <g stroke="#222" strokeWidth={1.6}>
        <line x1={79} y1={966} x2={79} y2={850} />
        <line x1={79} y1={966} x2={150} y2={966} />
      </g>
      <polygon points="79,842 75.5,875 82.5,875" fill="#222" />
      <polygon points="178,966 146,962.5 146,969.5" fill="#222" />
      <Rotated x={71} y={917} angle={-90} size={18.4}>FAS</Rotated>
      <text x={111} y={987} fontSize={18.4} textAnchor="middle" fill={INK}>GL7</text>

      <g fontSize={17.2} textAnchor="middle">
        <text x={330} y={764} fill={INK}>Wild Type</text>
        <text x={326.5} y={794} fill={INK}>Stat5a<Sup size={10}>+/+</Sup> Stat5b<Sup size={10}>+/+</Sup></text>
        <text x={561} y={764} fill="#2f6fc4">STAT5A-deficient</text>
        <text x={563.5} y={794} fill="#2f6fc4">Stat5a<Sup size={10}>-/-</Sup> Stat5b<Sup size={10}>+/-</Sup></text>
        <text x={795} y={764} fill="#e88a2a">STAT5B-deficient</text>
        <text x={796} y={794} fill="#e88a2a">Stat5a<Sup size={10}>+/-</Sup> Stat5b<Sup size={10}>-/-</Sup></text>
      </g>
      <g stroke={AXIS} strokeWidth={1.4}>
        <line x1={222} x2={435} y1={773} y2={773} />
        <line x1={457} x2={669} y1={773} y2={773} />
        <line x1={692} x2={902} y1={773} y2={773} />
      </g>
      <g fontSize={14.8} textAnchor="middle">
        <text x={401} y={932} fill={INK}>&lt;0.1%</text>
        <text x={640} y={932} fill="#2f6fc4">0.5%</text>
        <text x={874} y={932} fill="#e88a2a">1.4%</text>
      </g>

      <text x={1078} y={788} fontSize={16.8} textAnchor="middle" fill={INK}>GC B Cells</text>
      <Rotated x={976} y={883} angle={-90} size={14.6}>FAS<Sup size={9.5} rise={5}>+</Sup> GL7<Sup size={9.5} rise={5}>+</Sup> (%)</Rotated>
      <polygon points="1047,1000 1047,1031.5 1125,1031.5" fill="#000" />
      <text x={1053} y={1027} fontSize={15} fill="#fff">S5</text>
    </svg>
  );
}

export default function App() {
  return (
    <div style={{ position: "absolute", left: 0, top: 0, width: 1500, height: 1037, background: "#fff", overflow: "hidden", fontFamily: FONT }}>
      <BarPanel top={40} plotH={216} means={spleenMeans} tops={spleenTops} black={spleenBlack} orange={spleenOrange} domain={[0, 120]} ticks={[40, 80, 120]} />
      <BarPanel top={328} plotH={216} means={lnMeans} tops={lnTops} black={lnBlack} domain={[0, 27]} ticks={[9, 18, 27]} rows />

      <BoxPanel axisX={568.3} endX={813} top={40} stats={cd4Spleen} black={cd4SpleenBlack} orange={cd4SpleenOrange} padLeft={7} />
      <BoxPanel axisX={897.3} endX={1141.7} top={40} stats={cd8Spleen} black={cd8SpleenBlack} orange={cd8SpleenOrange} padLeft={6.6} />
      <BoxPanel axisX={1222.7} endX={1466.7} top={40} stats={bSpleen} padLeft={6.2} />
      <BoxPanel axisX={568.3} endX={813} top={328} stats={cd4Ln} black={cd4LnBlack} padLeft={7} rows hidden={[-3]} />
      <BoxPanel axisX={897.3} endX={1141.7} top={328} stats={cd8Ln} black={cd8LnBlack} padLeft={6.6} rows />
      <BoxPanel axisX={1223.3} endX={1467.7} top={328} stats={bLn} black={bLnBlack} padLeft={6.6} rows />

      <FlowPlot frameX={222.3} dots={wtDots} contours={wtContours} cores={wtCores} labels />
      <FlowPlot frameX={456.7} dots={aDots} contours={aContours} cores={aCores} streak={aStreak} />
      <FlowPlot frameX={691} dots={bDots} contours={bContours} cores={bCores} streak={bStreak} />

      <GcPanel />
      <Overlay />
    </div>
  );
}
